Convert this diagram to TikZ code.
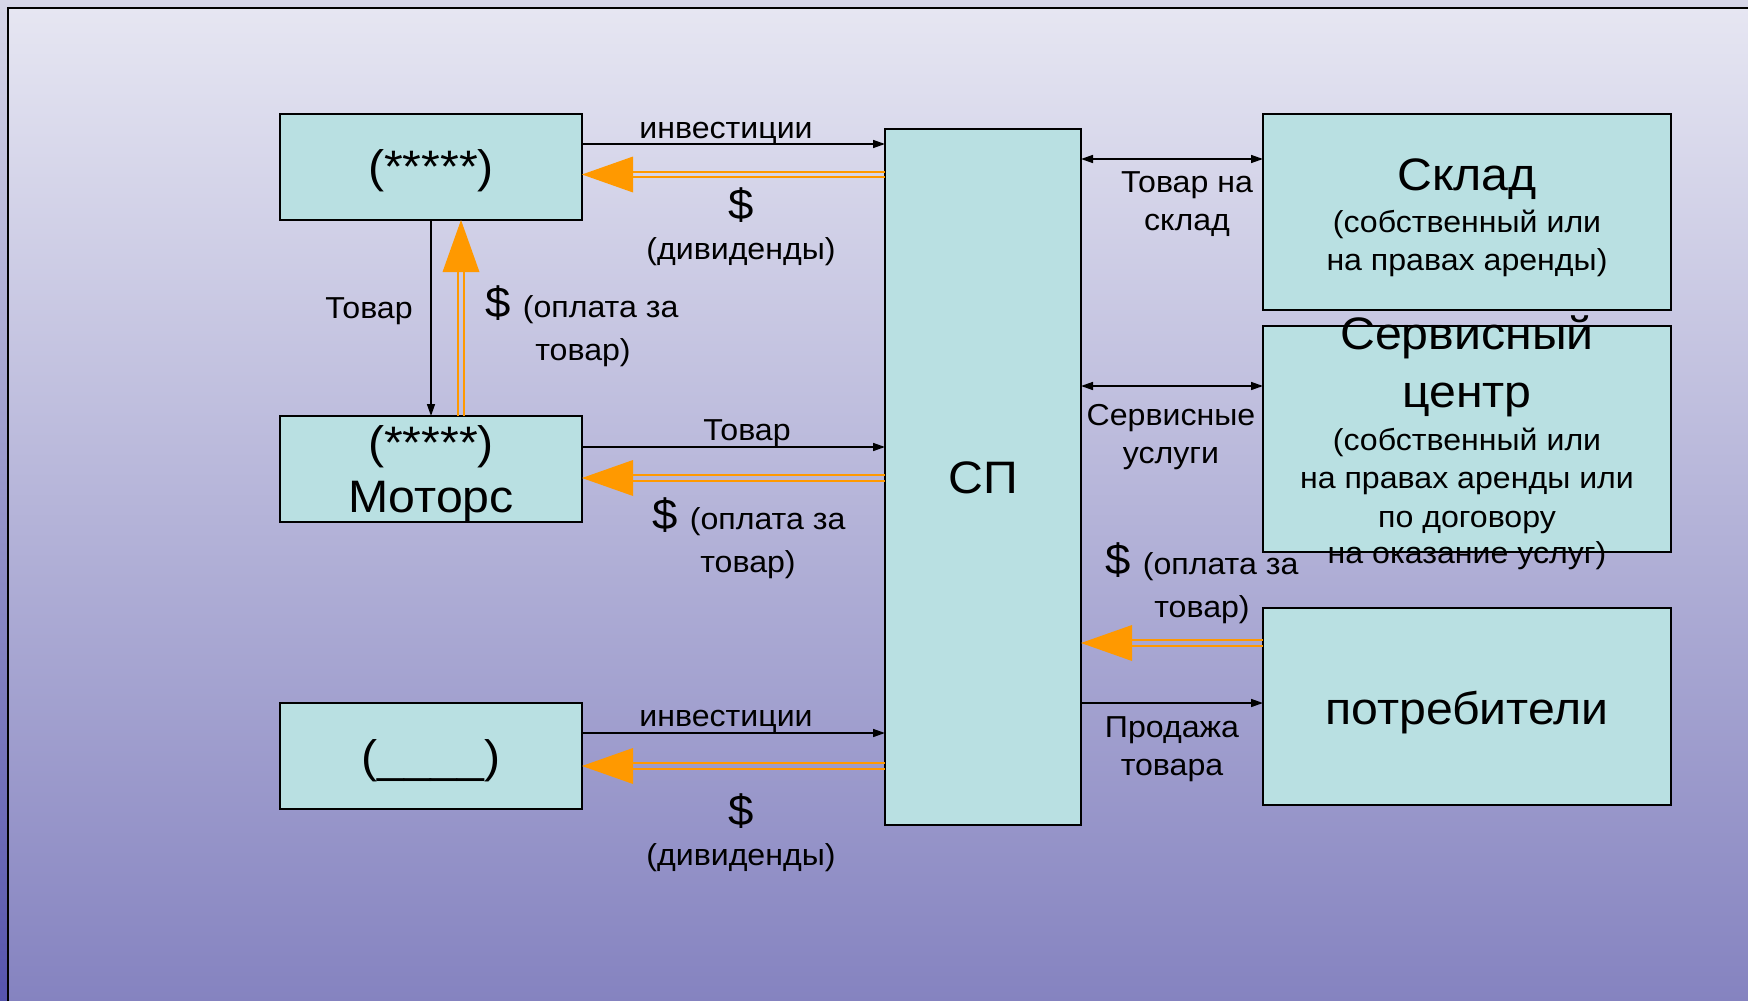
\documentclass[tikz,border=0pt]{standalone}
\usepackage{fontspec}
\setmainfont[FakeStretch=1.06]{Liberation Sans}
\usetikzlibrary{arrows.meta}
\definecolor{boxfill}{RGB}{185,224,226}
\definecolor{ocol}{RGB}{255,153,0}
\definecolor{intop}{RGB}{230,230,242}
\definecolor{inbot}{RGB}{133,131,192}
\definecolor{outtop}{RGB}{214,214,232}
\definecolor{outbot}{RGB}{86,84,172}
\newcommand\oarrowleft[3]{%
  \coordinate (oS) at (#1.west |- 0,#3);
  \coordinate (oT) at (#2.east |- 0,#3);
  \draw[oline] ([yshift=2.8pt]oS) -- ([xshift=51pt,yshift=2.8pt]oT);
  \draw[oline] ([yshift=-2.8pt]oS) -- ([xshift=51pt,yshift=-2.8pt]oT);
  \fill[ocol] (oT) -- ([xshift=51pt,yshift=18pt]oT) -- ([xshift=51pt,yshift=-18pt]oT) -- cycle;
}
\newcommand\bigdol{{\fontsize{43}{48}\selectfont\$}\hspace{3pt}}
\begin{document}
\begin{tikzpicture}[x=1pt,y=-1pt,
  box/.style={draw=black, line width=2pt, fill=boxfill, inner sep=0, outer sep=0},
  txt/.style={inner sep=0, anchor=base, font=\fontsize{30.3}{36}\selectfont},
  big/.style={inner sep=0, anchor=base, font=\fontsize{45.5}{52}\selectfont},
  dol/.style={inner sep=0, anchor=base, font=\fontsize{43}{48}\selectfont},
  arr/.style={line width=1.5pt, -{Triangle[length=12pt,width=8pt]}},
  darr/.style={line width=1.5pt, {Triangle[length=12pt,width=8pt]}-{Triangle[length=12pt,width=8pt]}},
  oline/.style={draw=ocol, line width=2pt}]
\useasboundingbox (0,0) rectangle (1748,1001);
% background
\shade[top color=outtop, bottom color=outbot] (0,0) rectangle (1748,1001);
\shade[top color=intop, bottom color=inbot] (8,8) rectangle (1748,1001);
\draw[line width=2pt] (8,1001) -- (8,8) -- (1748,8);

% boxes
\node[box, minimum width=302, minimum height=106] (b1) at (431,167) {};
\node[box, minimum width=302, minimum height=106] (b2) at (431,469) {};
\node[box, minimum width=302, minimum height=106] (b3) at (431,756) {};
\node[box, minimum width=196, minimum height=696] (sp) at (983,477) {};
\node[box, minimum width=408, minimum height=196] (sklad) at (1467,212) {};
\node[box, minimum width=408, minimum height=226] (serv) at (1467,439) {};
\node[box, minimum width=408, minimum height=197] (potr) at (1467,706.5) {};

% box texts
\node[big] (t1) at (431,182) {(*****)};
\node[big] (t2a) at (431,458) {(*****)};
\node[big] (t2b) at (431,512) {Моторс};
\node[big] (t3) at (431,772) {(\_\_\_\_)};
\node[big] (tsp) at (983,493) {СП};
\node[big] (tsk) at (1467,190) {Склад};
\node[txt] (tsk1) at (1467,232) {(собственный или};
\node[txt] (tsk2) at (1467,270) {на правах аренды)};
\node[big] (tsv1) at (1467,349) {Сервисный};
\node[big] (tsv2) at (1467,407) {центр};
\node[txt] (tsv3) at (1467,450) {(собственный или};
\node[txt] (tsv4) at (1467,488) {на правах аренды или};
\node[txt] (tsv5) at (1467,527) {по договору};
\node[txt] (tsv6) at (1467,563) {на оказание услуг)};
\node[big] (tpo) at (1467,724) {потребители};

% black arrows
\draw[arr] (b1.east |- 0,144) -- (sp.west |- 0,144);
\draw[arr] (b1.south -| 431,0) -- (b2.north -| 431,0);
\draw[arr] (b2.east |- 0,447) -- (sp.west |- 0,447);
\draw[arr] (b3.east |- 0,733) -- (sp.west |- 0,733);
\draw[darr] (sp.east |- 0,159) -- (sklad.west |- 0,159);
\draw[darr] (sp.east |- 0,386) -- (serv.west |- 0,386);
\draw[arr] (sp.east |- 0,703) -- (potr.west |- 0,703);

% orange arrows
\oarrowleft{sp}{b1}{174.5}
\oarrowleft{sp}{b2}{478}
\oarrowleft{sp}{b3}{766}
\oarrowleft{potr}{sp}{643}
\coordinate (vs) at (b2.north -| 461,0);
\coordinate (vt) at (b1.south -| 461,0);
\draw[oline] ([xshift=-3pt]vs) -- ([xshift=-3pt,yshift=-52pt]vt);
\draw[oline] ([xshift=3pt]vs) -- ([xshift=3pt,yshift=-52pt]vt);
\fill[ocol] (vt) -- ([xshift=-18.5pt,yshift=-52pt]vt) -- ([xshift=18.5pt,yshift=-52pt]vt) -- cycle;

% labels
\node[txt] (l1) at (726,138) {инвестиции};
\node[dol] (l2) at (741,219) {\$};
\node[txt] (l3) at (741,259) {(дивиденды)};
\node[txt] (l4) at (369,318) {Товар};
\node[txt] (l5) at (582,317) {\bigdol{} (оплата за};
\node[txt] (l6) at (583,360) {товар)};
\node[txt] (l7) at (747,440) {Товар};
\node[txt] (l8) at (749,529) {\bigdol{} (оплата за};
\node[txt] (l9) at (748,572) {товар)};
\node[txt] (l10) at (726,726) {инвестиции};
\node[dol] (l11) at (741,825) {\$};
\node[txt] (l12) at (741,865) {(дивиденды)};
\node[txt] (l13) at (1187,192) {Товар на};
\node[txt] (l14) at (1187,230) {склад};
\node[txt] (l15) at (1171,425) {Сервисные};
\node[txt] (l16) at (1171,463) {услуги};
\node[txt] (l17) at (1202,574) {\bigdol{} (оплата за};
\node[txt] (l18) at (1202,617) {товар)};
\node[txt] (l19) at (1172,737) {Продажа};
\node[txt] (l20) at (1172,775) {товара};
\end{tikzpicture}
\end{document}
